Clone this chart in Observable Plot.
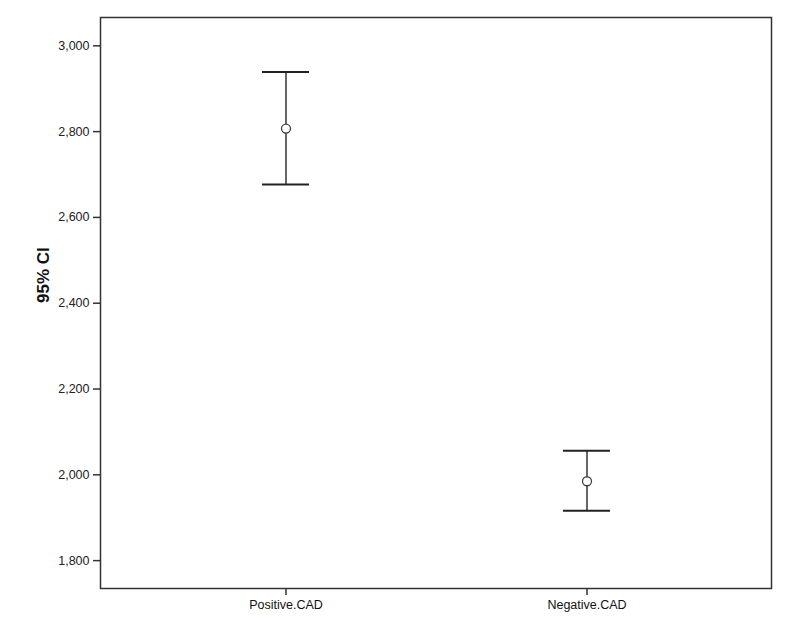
<!DOCTYPE html>
<html>
<head>
<meta charset="utf-8">
<script src="https://cdn.jsdelivr.net/npm/d3@7"></script>
<script src="https://cdn.jsdelivr.net/npm/@observablehq/plot@0.6"></script>
<style>
  html, body { margin: 0; padding: 0; background: #fff; }
  svg { display: block; }
</style>
</head>
<body>
<div id="chart"></div>
<script>
const groups = ["Positive.CAD", "Negative.CAD"];
const means  = [2807, 1985];
const lower  = [2677, 1916];
const upper  = [2939, 2056];
const yTicks = [1800, 2000, 2200, 2400, 2600, 2800, 3000];

const data = groups.map((g, i) => ({group: g, mean: means[i], lo: lower[i], hi: upper[i]}));

const chart = Plot.plot({
  width: 788,
  height: 632,
  marginLeft: 100,
  marginRight: 17,
  marginTop: 17,
  marginBottom: 44,
  style: {fontFamily: "Liberation Sans, Arial, sans-serif", fontSize: "12.5px", color: "#222", background: "#fff"},
  x: {
    type: "band",
    domain: groups,
    paddingInner: 0.844,
    paddingOuter: 0.535,
    label: null
  },
  y: {
    domain: [1735, 3066],
    ticks: yTicks,
    tickFormat: d3.format(","),
    label: null
  },
  marks: [
    Plot.frame({stroke: "#333", strokeWidth: 1.5}),
    Plot.axisY({ticks: yTicks, tickFormat: d3.format(","), tickSize: 7, tickPadding: 4, stroke: "#333", strokeWidth: 1.5, fill: "#222", label: null}),
    Plot.axisX({tickSize: 7, tickPadding: 5, stroke: "#333", strokeWidth: 1.5, fill: "#111", label: null}),
    Plot.text(["95% CI"], {frameAnchor: "left", dx: -57, rotate: -90, fontWeight: "bold", fontSize: 17, fill: "#111"}),
    Plot.ruleX(data, {x: "group", y1: "lo", y2: "hi", stroke: "#333", strokeWidth: 1.5}),
    Plot.tickY(data, {x: "group", y: "lo", stroke: "#222", strokeWidth: 2}),
    Plot.tickY(data, {x: "group", y: "hi", stroke: "#222", strokeWidth: 2}),
    Plot.dot(data, {x: "group", y: "mean", r: 4.5, stroke: "#444", strokeWidth: 1.3, fill: "white"})
  ]
});
document.getElementById("chart").appendChild(chart);
</script>
</body>
</html>
